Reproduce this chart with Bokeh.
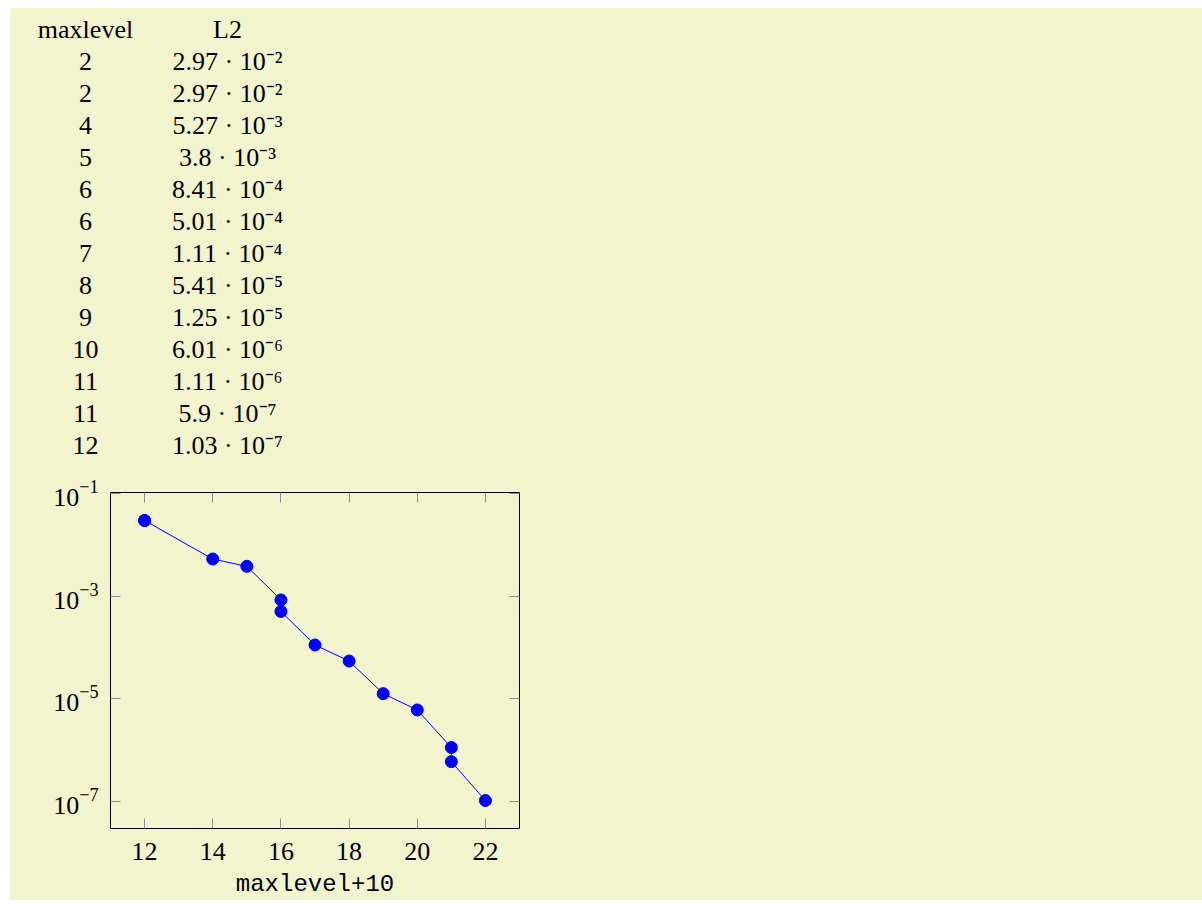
from bokeh.plotting import figure
from bokeh.models import Range1d, FixedTicker, LinearAxis, LogAxis, CustomJSTickFormatter, Spacer
from bokeh.layouts import row, column
from bokeh.core.properties import value
from bokeh.embed import file_html
from bokeh.resources import INLINE

# ---- data ----
maxlevel = [2, 2, 4, 5, 6, 6, 7, 8, 9, 10, 11, 11, 12]
l2 = [2.97e-2, 2.97e-2, 5.27e-3, 3.8e-3, 8.41e-4, 5.01e-4, 1.11e-4,
      5.41e-5, 1.25e-5, 6.01e-6, 1.11e-6, 5.9e-7, 1.03e-7]
headers = ["maxlevel", "L2"]
x_shift = 10
x_ticks = [12, 14, 16, 18, 20, 22]
y_ticks = [1e-7, 1e-5, 1e-3, 1e-1]
x_label = "maxlevel+10"

BG = "#F2F4CE"
SERIF = "Liberation Serif"
SUP = str.maketrans("-0123456789", "⁻⁰¹²³⁴⁵⁶⁷⁸⁹")


def sci(v):
    m, e = f"{v:.2e}".split("e")
    m = m.rstrip("0").rstrip(".")
    return f"{m} · 10{str(int(e)).translate(SUP)}"


W = 1192
bg_style = {"background-color": BG}

# ---- table ----
t = figure(width=W, height=460, output_backend="svg", toolbar_location=None,
           x_range=Range1d(0, W), y_range=Range1d(12.719, -1.656),
           x_axis_location=None, y_axis_location=None, min_border=0,
           background_fill_color=BG, border_fill_color=BG,
           outline_line_color=None)
t.grid.visible = False
rows = list(range(len(maxlevel)))
col1_x, col2_x = 75, 217
txt = dict(text_align="center", text_baseline="alphabetic", text_font=value(SERIF),
           text_font_size="26px", text_color="black")
t.text(x=[col1_x, col2_x], y=[-1, -1], text=headers, **txt)
t.text(x=[col1_x] * len(rows), y=rows, text=[str(m) for m in maxlevel], **txt)
t.text(x=[col2_x] * len(rows), y=rows, text=[sci(v) for v in l2], **txt)

# ---- plot ----
xs = [m + x_shift for m in maxlevel]
p = figure(width=W, height=432, output_backend="svg", toolbar_location=None,
           y_axis_type="log", x_range=Range1d(11, 23),
           y_range=Range1d(10 ** -7.533, 10 ** -0.981),
           min_border_left=100, min_border_right=683, min_border_top=24,
           min_border_bottom=72, background_fill_color=BG, border_fill_color=BG,
           outline_line_color="black", outline_line_width=1)
p.grid.visible = False
p.line(xs, l2, line_color="#0000FF", line_width=1)
p.scatter(xs, l2, size=12, fill_color="#0000FF", line_color="#0000FF")

blank = CustomJSTickFormatter(code="return ''")
p.add_layout(LinearAxis(formatter=blank), "above")
p.add_layout(LogAxis(formatter=blank), "right")

for ax in p.xaxis:
    ax.ticker = FixedTicker(ticks=x_ticks, minor_ticks=[])
for ax in p.yaxis:
    ax.ticker = FixedTicker(ticks=y_ticks, minor_ticks=[])
for ax in p.axis:
    ax.axis_line_color = None
    ax.major_tick_in = 10
    ax.major_tick_out = 0
    ax.minor_tick_in = 0
    ax.minor_tick_out = 0
    ax.major_tick_line_color = "#8c8c8c"
    ax.major_tick_line_width = 1
    ax.major_label_text_font = SERIF
    ax.major_label_text_font_size = "26px"
    ax.major_label_text_color = "black"

bottom = p.below[0]
left = p.left[0]
bottom.major_label_standoff = 14
left.major_label_standoff = 12
bottom.axis_label = x_label
bottom.axis_label_text_font = "Liberation Mono"
bottom.axis_label_text_font_size = "24px"
bottom.axis_label_text_font_style = "normal"
bottom.axis_label_text_color = "black"
bottom.axis_label_standoff = 8

layout = column(
    Spacer(width=10, height=8),
    row(Spacer(width=10, height=460), row(t, styles=bg_style), spacing=0),
    row(Spacer(width=10, height=432), row(p, styles=bg_style), spacing=0),
    spacing=0,
)
open("out.html", "w").write(file_html(layout, INLINE))
